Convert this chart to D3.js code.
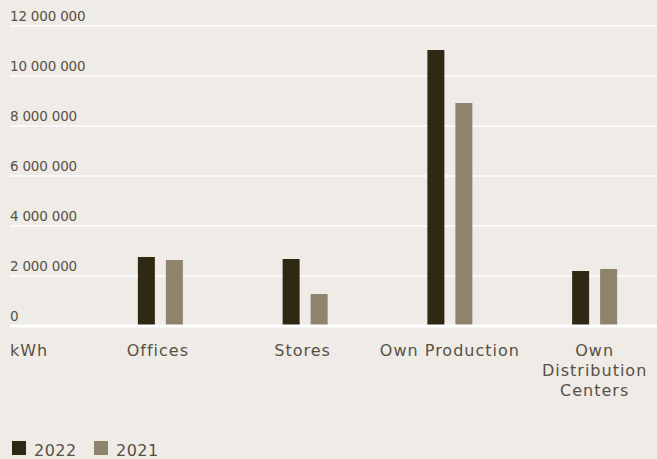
<!DOCTYPE html>
<html>
<head>
<meta charset="utf-8">
<script src="https://cdn.jsdelivr.net/npm/d3@7"></script>
<style>
  html, body { margin: 0; padding: 0; background: #efebe7; }
  svg { display: block; }
  text { font-family: "DejaVu Sans", sans-serif; fill: #575144; }
</style>
</head>
<body>
<svg id="chart" width="657" height="459"></svg>
<script>
const categories = ["Offices", "Stores", "Own Production", "Own Distribution Centers"];
const categoryLines = [["Offices"], ["Stores"], ["Own Production"], ["Own", "Distribution", "Centers"]];
const seriesNames = ["2022", "2021"];
const values2022 = [2760000, 2680000, 11040000, 2200000];
const values2021 = [2640000, 1280000, 8920000, 2280000];
const yTickValues = [0, 2000000, 4000000, 6000000, 8000000, 10000000, 12000000];
const yTickLabels = ["0", "2 000 000", "4 000 000", "6 000 000", "8 000 000", "10 000 000", "12 000 000"];
const unitLabel = "kWh";
const colors = ["#2f2914", "#8f836d"];

const svg = d3.select("#chart");
const W = 657, H = 459;

const y = d3.scaleLinear().domain([0, 12000000]).range([326, 26]);
const x = d3.scaleBand().domain(categories).range([88, 667]).padding(0);
const xi = d3.scaleBand().domain(seriesNames).range([-22.5, 22.5]).paddingInner(11 / 28).paddingOuter(0);

// gridlines
svg.append("g").selectAll("line")
  .data(yTickValues.filter(d => d !== 0))
  .join("line")
  .attr("x1", 10).attr("x2", W)
  .attr("y1", d => y(d)).attr("y2", d => y(d))
  .attr("stroke", "#ffffff").attr("stroke-width", 1.5);

// y tick labels
svg.append("g").selectAll("text")
  .data(yTickValues)
  .join("text")
  .attr("x", 10)
  .attr("y", d => y(d) - 5)
  .attr("font-size", 13.5)
  .attr("letter-spacing", -0.2)
  .text((d, i) => yTickLabels[i]);

// bars
const data = categories.map((c, i) => ({ c, vals: [values2022[i], values2021[i]] }));
const groups = svg.append("g").selectAll("g")
  .data(data)
  .join("g")
  .attr("transform", d => `translate(${x(d.c) + x.bandwidth() / 2},0)`);
groups.selectAll("rect")
  .data(d => d.vals.map((v, j) => ({ s: seriesNames[j], v, j })))
  .join("rect")
  .attr("x", d => xi(d.s))
  .attr("width", xi.bandwidth())
  .attr("y", d => y(d.v))
  .attr("height", d => y(0) - y(d.v))
  .attr("fill", d => colors[d.j]);

// baseline
svg.append("line")
  .attr("x1", 10).attr("x2", W)
  .attr("y1", y(0)).attr("y2", y(0))
  .attr("stroke", "#ffffff").attr("stroke-width", 3);

// category labels
const labels = svg.append("g").selectAll("text")
  .data(categories)
  .join("text")
  .attr("x", (d, i) => x(d) + x.bandwidth() / 2 - (i < 2 ? 2.5 : 0))
  .attr("y", 356)
  .attr("text-anchor", "middle")
  .attr("font-size", 16)
  .attr("letter-spacing", 1);
labels.selectAll("tspan")
  .data((d, i) => categoryLines[i])
  .join("tspan")
  .attr("x", function() { return d3.select(this.parentNode).attr("x"); })
  .attr("dy", (d, i) => i === 0 ? 0 : 20)
  .text(d => d);

svg.append("text")
  .attr("x", 10).attr("y", 356)
  .attr("font-size", 16)
  .attr("letter-spacing", 1)
  .text(unitLabel);

// legend
const legend = svg.append("g").attr("transform", "translate(12,441)");
const items = legend.selectAll("g")
  .data(seriesNames)
  .join("g")
  .attr("transform", (d, i) => `translate(${i * 82},0)`);
items.append("rect")
  .attr("width", 14).attr("height", 14)
  .attr("fill", (d, i) => colors[i]);
items.append("text")
  .attr("x", 22).attr("y", 15)
  .attr("font-size", 16)
  .attr("letter-spacing", 0.5)
  .text(d => d);
</script>
</body>
</html>
